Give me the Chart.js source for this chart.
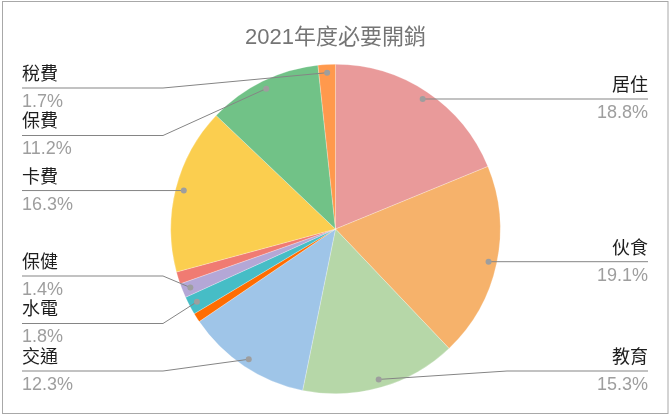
<!DOCTYPE html>
<html>
<head>
<meta charset="utf-8">
<title>2021年度必要開銷</title>
<script src="https://cdn.jsdelivr.net/npm/chart.js@4/dist/chart.umd.min.js"></script>
<style>
    html, body { margin: 0; padding: 0; background: #fff; }
    #wrap { width: 671px; height: 418px; }
</style>
</head>
<body>
<div id="wrap"><canvas id="chart" width="671" height="418"></canvas></div>
<script>
// categories with no label shown on the chart are left empty
var categories = ['居住', '伙食', '教育', '交通', '', '水電', '保健', '', '卡費', '保費', '稅費'];
var shares = [18.8, 19.1, 15.3, 12.3, 0.9, 1.8, 1.4, 1.2, 16.3, 11.2, 1.7];
var sliceColors = ['#E99A9A', '#F6B26B', '#B6D7A8', '#9FC5E8', '#FF6D01', '#46BDC6',
    '#B4A7D6', '#F07B72', '#FBCE4F', '#71C287', '#FF994D'];

var FONT = "'Liberation Sans', Arial, 'Noto Sans CJK TC', sans-serif";

var leaderLabels = {
    id: 'leaderLabels',
    afterDraw: function(chart) {
        var ctx = chart.ctx;
        var area = chart.chartArea;
        var meta = chart.getDatasetMeta(0);
        var total = shares.reduce(function(a, b) { return a + b; }, 0);
        var left = [], right = [];
        var gap = 47.5;
        var minY = area.top + 24;
        var maxY = area.bottom - 23;

        meta.data.forEach(function(arc, i) {
            if (!categories[i]) return;
            var mid = (arc.startAngle + arc.endAngle) / 2;
            var r = arc.outerRadius * 0.95;
            var item = {
                i: i,
                ax: arc.x + Math.cos(mid) * r,
                ay: arc.y + Math.sin(mid) * r
            };
            if (item.ax < arc.x) left.push(item);
            else right.push(item);
        });

        // push labels down so they don't overlap, then back up from the bottom limit
        [left, right].forEach(function(list) {
            list.sort(function(a, b) { return a.ay - b.ay; });
            var prev = -Infinity;
            list.forEach(function(it) {
                it.y = Math.max(it.ay, minY, prev + gap);
                prev = it.y;
            });
            var next = Infinity;
            for (var k = list.length - 1; k >= 0; k--) {
                list[k].y = Math.min(list[k].y, maxY, next - gap);
                next = list[k].y;
            }
        });

        ctx.save();
        ctx.lineWidth = 1;
        ctx.textBaseline = 'middle';

        function drawOne(it, isLeft) {
            var textX = isLeft ? 22 : 648;
            var elbowX = isLeft ? 163 : 507;
            ctx.strokeStyle = '#858585';
            ctx.beginPath();
            ctx.moveTo(textX, it.y);
            ctx.lineTo(elbowX, it.y);
            ctx.lineTo(it.ax, it.ay);
            ctx.stroke();

            ctx.fillStyle = '#9e9e9e';
            ctx.beginPath();
            ctx.arc(it.ax, it.ay, 3, 0, Math.PI * 2);
            ctx.fill();

            ctx.textAlign = isLeft ? 'left' : 'right';
            ctx.font = '18px ' + FONT;
            ctx.fillStyle = '#1e1e1e';
            ctx.fillText(categories[it.i], textX, it.y - 13);
            ctx.fillStyle = '#9e9e9e';
            ctx.fillText((shares[it.i] / total * 100).toFixed(1) + '%', textX, it.y + 14);
        }

        left.forEach(function(it) { drawOne(it, true); });
        right.forEach(function(it) { drawOne(it, false); });

        // chart frame
        ctx.strokeStyle = '#a8a8a8';
        ctx.strokeRect(2.5, 1.5, 665.5, 412);
        ctx.restore();
    }
};

var ctx = document.getElementById('chart').getContext('2d');
var chart = new Chart(ctx, {
    type: 'pie',
    data: {
        labels: categories,
        datasets: [{
            data: shares,
            backgroundColor: sliceColors,
            borderColor: 'rgba(255,255,255,0.5)',
            borderWidth: 0.5
        }]
    },
    options: {
        responsive: false,
        animation: false,
        layout: {
            padding: { top: 0, bottom: 24, left: 0, right: 0 }
        },
        plugins: {
            legend: { display: false },
            tooltip: { enabled: false },
            title: {
                display: true,
                text: '2021年度必要開銷',
                color: '#757575',
                font: { family: FONT, size: 22, weight: 'normal' },
                padding: { top: 25, bottom: 12.6 }
            }
        }
    },
    plugins: [leaderLabels]
});
</script>
</body>
</html>
